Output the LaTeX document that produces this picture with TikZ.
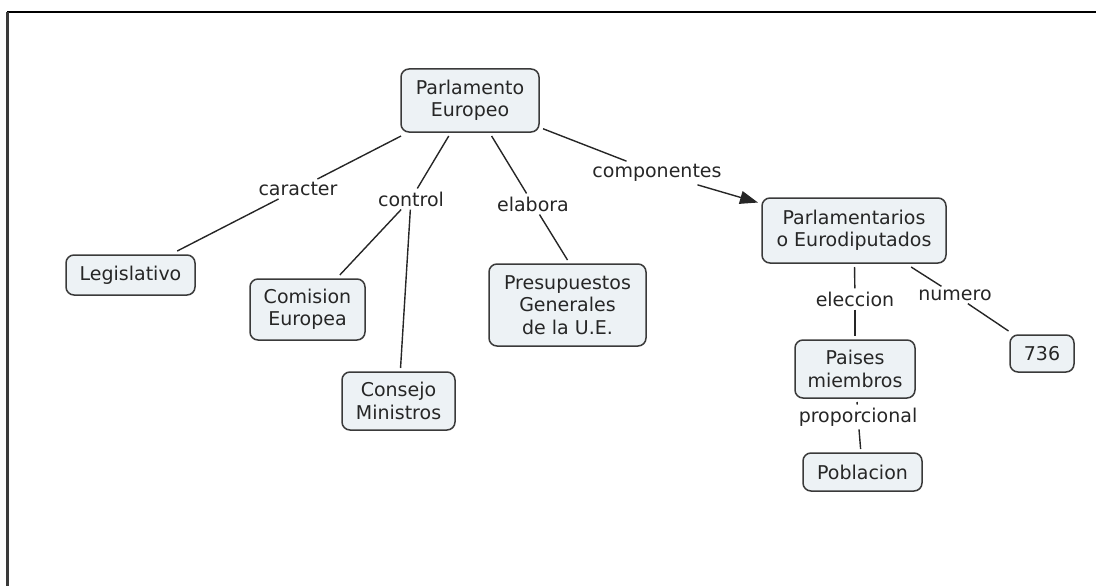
\documentclass[tikz,border=0pt]{standalone}
\usepackage{fontspec}
\setmainfont{DejaVu Sans}
\usetikzlibrary{arrows.meta}
\definecolor{boxfill}{HTML}{EDF2F5}
\definecolor{boxline}{HTML}{3A3A3A}
\definecolor{txt}{HTML}{262626}
\begin{document}
\begin{tikzpicture}[x=1pt,y=-1pt,
  concept/.style={draw=boxline, line width=1.5pt, fill=boxfill, rounded corners=8pt,
    align=center, text=txt, inner sep=0pt, outer sep=4pt,
    font=\fontsize{19}{22.5}\selectfont},
  lbl/.style={text=txt, inner sep=3pt, font=\fontsize{19}{22.5}\selectfont},
  link/.style={draw=txt, line width=1.4pt},
  frame/.style={line width=2pt}]
\useasboundingbox (0,0) rectangle (1096,586);
% frame (top and left only)
\draw[frame, black] (7,12.5) -- (1096,12.5);
\draw[frame, boxline, line width=2.5pt] (7.5,12) -- (7.5,586);

% concepts
\node[concept, minimum width=138pt, minimum height=63pt] (pe) at (470,100.5) {Parlamento\\Europeo};
\node[concept, minimum width=129pt, minimum height=40pt] (leg) at (130.5,275) {Legislativo};
\node[concept, minimum width=115pt, minimum height=61pt] (com) at (307.5,309.5) {Comision\\Europea};
\node[concept, minimum width=113pt, minimum height=58pt] (cons) at (398.5,401) {Consejo\\Ministros};
\node[concept, minimum width=157pt, minimum height=82pt] (pres) at (567.5,305) {Presupuestos\\Generales\\de la U.E.};
\node[concept, minimum width=184pt, minimum height=65pt] (parl) at (854,230.5) {Parlamentarios\\o Eurodiputados};
\node[concept, minimum width=120pt, minimum height=58pt] (pais) at (855,369) {Paises\\miembros};
\node[concept, minimum width=64pt, minimum height=37pt] (n736) at (1042,353.5) {736};
\node[concept, minimum width=119pt, minimum height=38pt] (pob) at (862.5,472) {Poblacion};

% linking phrases
\node[lbl] (car) at (298,189) {caracter};
\node[lbl] (ctl) at (411,199) {control};
\node[lbl] (ela) at (533,204) {elabora};
\node[lbl] (cmp) at (657,173) {componentes};
\node[lbl] (ele) at (855,299) {eleccion};
\node[lbl] (num) at (955,295) {numero};
\node[lbl] (pro) at (858,417) {proporcional};

% connectors
\draw[link] (pe) -- (car);
\draw[link] (car) -- (leg);
\draw[link] (pe) -- (ctl);
\draw[link] (ctl) -- (com);
\draw[link] (ctl) -- (cons);
\draw[link] (pe) -- (ela);
\draw[link] (ela) -- (pres.north);
\draw[link] (pe) -- (cmp);
\draw[link, -{Triangle[length=18pt,width=13pt]}] (cmp) -- (parl);
\draw[link] (parl) -- (ele);
\draw[link] (ele) -- (pais);
\draw[link] (parl) -- (num);
\draw[link] (num) -- (n736);
\draw[link] (pais) -- (pro);
\draw[link] (pro) -- (pob);
\end{tikzpicture}
\end{document}
